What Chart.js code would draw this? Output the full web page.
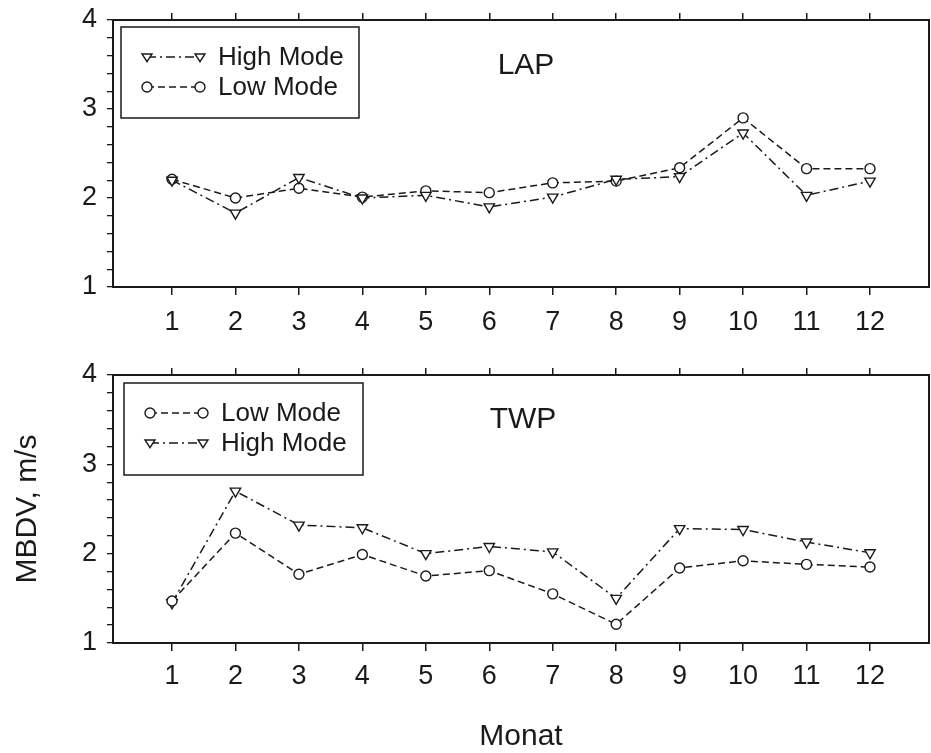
<!DOCTYPE html>
<html>
<head>
<meta charset="utf-8">
<script src="https://cdn.jsdelivr.net/npm/chart.js@4.4.1/dist/chart.umd.min.js"></script>
<style>
  body { margin: 0; background: #fff; }
  canvas { position: absolute; left: 0; }
  #lapChart { top: 0; }
  #twpChart { top: 355px; }
</style>
</head>
<body>
<canvas id="lapChart" width="931" height="355"></canvas>
<canvas id="twpChart" width="931" height="398"></canvas>
<script>
// months on the x axis
const months = [1, 2, 3, 4, 5, 6, 7, 8, 9, 10, 11, 12];

// LAP panel
const lapHigh = [2.20, 1.83, 2.23, 2.00, 2.03, 1.90, 2.01, 2.21, 2.24, 2.73, 2.03, 2.19];
const lapLow  = [2.21, 2.00, 2.11, 2.01, 2.08, 2.06, 2.17, 2.19, 2.34, 2.90, 2.33, 2.33];

// TWP panel
const twpLow  = [1.47, 2.23, 1.77, 1.99, 1.75, 1.81, 1.55, 1.21, 1.84, 1.92, 1.88, 1.85];
const twpHigh = [1.45, 2.70, 2.32, 2.29, 2.00, 2.08, 2.02, 1.50, 2.28, 2.27, 2.13, 2.01];

const fontFamily = '"Liberation Sans", Arial, sans-serif';
const ink = '#1a1a1a';

function toPoints(values) {
    return months.map((m, i) => ({ x: m, y: values[i] }));
}

function highSeries(label, values) {
    return {
        label: label,
        data: toPoints(values),
        borderColor: ink,
        borderWidth: 1.5,
        borderDash: [9, 4, 2, 4],
        pointStyle: 'triangle',
        pointRotation: 180,
        pointRadius: 6,
        pointBorderWidth: 1.4,
        pointBackgroundColor: '#fff',
        pointBorderColor: ink,
        tension: 0
    };
}

function lowSeries(label, values) {
    return {
        label: label,
        data: toPoints(values),
        borderColor: ink,
        borderWidth: 1.5,
        borderDash: [7, 4],
        pointStyle: 'circle',
        pointRadius: 5,
        pointBorderWidth: 1.4,
        pointBackgroundColor: '#fff',
        pointBorderColor: ink,
        tension: 0
    };
}

function drawMarker(ctx, style, x, y, r) {
    ctx.beginPath();
    if (style === 'circle') {
        ctx.arc(x, y, r, 0, Math.PI * 2);
    } else {
        ctx.moveTo(x - r, y - r * 0.6);
        ctx.lineTo(x + r, y - r * 0.6);
        ctx.lineTo(x, y + r * 0.95);
        ctx.closePath();
    }
    ctx.setLineDash([]);
    ctx.fillStyle = '#fff';
    ctx.fill();
    ctx.stroke();
}

// frame, panel label and the boxed legend
const panelPlugin = {
    id: 'panel',
    afterDraw(chart, args, opts) {
        const ctx = chart.ctx;
        const a = chart.chartArea;
        ctx.save();
        ctx.strokeStyle = ink;
        ctx.lineWidth = 2;
        ctx.strokeRect(a.left, a.top, a.right - a.left, a.bottom - a.top);

        ctx.fillStyle = ink;
        ctx.font = `30px ${fontFamily}`;
        ctx.textAlign = 'center';
        ctx.textBaseline = 'middle';
        ctx.fillText(opts.label, opts.labelX, opts.labelY);

        const b = opts.box;
        ctx.lineWidth = 1.5;
        ctx.strokeRect(b.x, b.y, b.w, b.h);

        ctx.font = `26px ${fontFamily}`;
        ctx.textAlign = 'left';
        chart.data.datasets.forEach((ds, i) => {
            const y = b.y + 30 + i * 30;
            const x0 = b.x + 26, x1 = b.x + 79;
            ctx.lineWidth = 1.4;
            ctx.setLineDash(ds.borderDash);
            ctx.beginPath();
            ctx.moveTo(x0, y);
            ctx.lineTo(x1, y);
            ctx.stroke();
            drawMarker(ctx, ds.pointStyle, x0, y, 5);
            drawMarker(ctx, ds.pointStyle, x1, y, 5);
            ctx.fillStyle = ink;
            ctx.fillText(ds.label, b.x + 97, y + 1);
        });
        ctx.restore();
    }
};

function buildOptions(cfg) {
    const tickFont = { family: fontFamily, size: 27 };
    const monthTicks = scale => { scale.ticks = months.map(v => ({ value: v })); };
    return {
        responsive: false,
        animation: false,
        layout: { autoPadding: false, padding: { left: 0, right: 2, top: 0, bottom: 0 } },
        plugins: {
            legend: { display: false },
            tooltip: { enabled: false },
            panel: cfg.panel
        },
        scales: {
            x: {
                type: 'linear',
                min: 0.07,
                max: 12.93,
                afterBuildTicks: monthTicks,
                afterFit: s => { s.height = cfg.bottomH; s.paddingLeft = 0; s.paddingRight = 0; },
                border: { display: false },
                grid: { drawOnChartArea: false, tickLength: 8, color: ink, lineWidth: 1.5 },
                ticks: { autoSkip: false, maxRotation: 0, padding: cfg.xPad, color: ink, font: tickFont, callback: v => v },
                title: cfg.xTitle
                    ? { display: true, text: cfg.xTitle, color: ink, font: { family: fontFamily, size: 30, lineHeight: 1 }, padding: { top: 0, bottom: 1 } }
                    : { display: false }
            },
            xTop: {
                type: 'linear',
                position: 'top',
                min: 0.07,
                max: 12.93,
                afterBuildTicks: monthTicks,
                afterFit: s => { s.height = 20; s.paddingLeft = 0; s.paddingRight = 0; },
                border: { display: false },
                grid: { drawOnChartArea: false, tickLength: 7, color: ink, lineWidth: 1.5 },
                ticks: { display: false }
            },
            y: {
                min: 1,
                max: 4,
                afterFit: s => { s.width = 113; s.paddingTop = 0; s.paddingBottom = 0; },
                border: { display: false },
                grid: { drawOnChartArea: false, tickLength: 6, color: ink, lineWidth: 1.3 },
                ticks: {
                    stepSize: 0.2,
                    autoSkip: false,
                    padding: 10,
                    color: ink,
                    font: tickFont,
                    callback: v => Math.abs(v - Math.round(v)) < 1e-6 ? Math.round(v) : ''
                },
                title: cfg.yTitle
                    ? { display: true, text: cfg.yTitle, color: ink, font: { family: fontFamily, size: 30, lineHeight: 1 }, padding: { top: 13, bottom: 0 } }
                    : { display: false }
            }
        }
    };
}

new Chart(document.getElementById('lapChart'), {
    type: 'line',
    data: { datasets: [highSeries('High Mode', lapHigh), lowSeries('Low Mode', lapLow)] },
    options: buildOptions({
        bottomH: 68,
        xPad: 11,
        panel: { label: 'LAP', labelX: 526, labelY: 66, box: { x: 121, y: 27, w: 238, h: 91 } }
    }),
    plugins: [panelPlugin]
});

new Chart(document.getElementById('twpChart'), {
    type: 'line',
    data: { datasets: [lowSeries('Low Mode', twpLow), highSeries('High Mode', twpHigh)] },
    options: buildOptions({
        bottomH: 110,
        xPad: 9,
        xTitle: 'Monat',
        yTitle: 'MBDV, m/s',
        panel: { label: 'TWP', labelX: 523, labelY: 65, box: { x: 124, y: 28, w: 239, h: 92 } }
    }),
    plugins: [panelPlugin]
});
</script>
</body>
</html>
